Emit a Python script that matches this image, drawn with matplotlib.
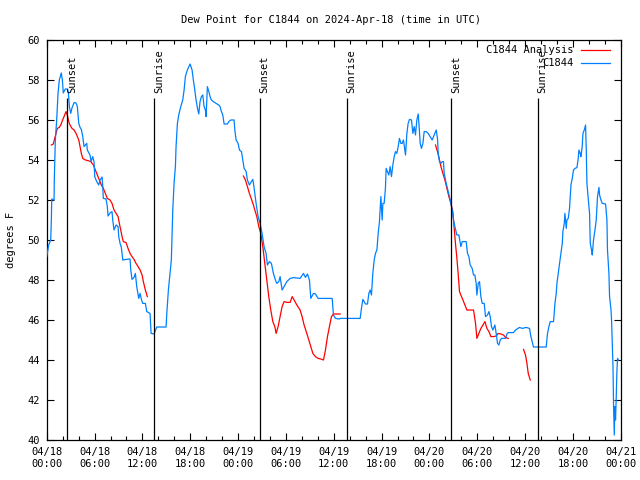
import matplotlib
matplotlib.use('Agg')
import matplotlib.pyplot as plt
import matplotlib.dates as mdates
from matplotlib.lines import Line2D
import pandas as pd

# hours since 2024-04-18 00:00 UTC and dew point (F)
obs_hours = [0.00, 0.25, 0.50, 0.58, 0.63, 0.92, 0.95, 1.08, 1.25, 1.42, 1.58, 1.83, 1.96, 2.08,
             2.33, 2.58, 2.71, 2.84, 3.01, 3.17, 3.43, 3.68, 3.84, 4.02, 4.18, 4.34, 4.52, 4.68,
             5.02, 5.09, 5.43, 5.56, 5.77, 5.93, 6.02, 6.27, 6.52, 6.69, 6.94, 7.03, 7.10, 7.44,
             7.60, 7.69, 7.94, 8.19, 8.28, 8.44, 8.70, 8.95, 9.03, 9.20, 9.36, 9.54, 9.95, 10.45,
             10.54, 10.70, 10.95, 11.12, 11.29, 11.54, 11.71, 11.87, 12.05, 12.37, 12.55, 12.96,
             13.09, 13.46, 13.80, 14.97, 15.06, 15.26, 15.47, 15.63, 15.72, 15.81, 15.97, 16.14,
             16.22, 16.39, 16.56, 16.81, 17.06, 17.23, 17.39, 17.64, 17.98, 18.23, 18.39, 18.57,
             18.73, 18.90, 19.07, 19.23, 19.40, 19.57, 19.74, 19.90, 19.99, 20.15, 20.33, 20.49,
             20.65, 20.90, 21.24, 21.58, 21.74, 21.91, 22.08, 22.25, 22.66, 22.84, 23.09, 23.50,
             23.59, 23.75, 24.00, 24.17, 24.42, 24.59, 24.76, 25.01, 25.17, 25.42, 25.67, 25.85,
             26.01, 26.26, 26.51, 26.76, 27.01, 27.26, 27.51, 27.68, 27.93, 28.18, 28.43, 28.68,
             28.86, 29.11, 29.27, 29.52, 29.77, 30.11, 30.53, 30.94, 31.78, 32.20, 32.45, 32.70,
             32.95, 33.12, 33.45, 33.70, 34.04, 35.80, 35.96, 36.21, 36.71, 36.80, 39.31, 39.47,
             39.65, 39.81, 39.98, 40.23, 40.40, 40.57, 40.73, 40.90, 41.07, 41.23, 41.41, 41.57,
             41.73, 41.91, 42.07, 42.16, 42.32, 42.48, 42.57, 42.73, 42.91, 43.07, 43.24, 43.41,
             43.58, 43.74, 43.91, 44.08, 44.24, 44.42, 44.58, 44.74, 44.92, 45.00, 45.17, 45.33,
             45.50, 45.75, 45.92, 46.09, 46.25, 46.42, 46.59, 46.68, 46.84, 47.00, 47.18, 47.34,
             47.59, 47.84, 48.09, 48.34, 48.60, 48.85, 49.01, 49.10, 49.26, 49.44, 49.60, 49.76,
             49.85, 50.10, 50.26, 50.51, 50.69, 50.85, 51.02, 51.19, 51.44, 51.69, 51.94, 52.11,
             52.61, 52.77, 52.95, 53.11, 53.36, 53.53, 53.70, 53.86, 53.95, 54.12, 54.28, 54.45,
             54.62, 54.87, 55.03, 55.28, 55.46, 55.62, 55.78, 55.96, 56.21, 56.37, 56.54, 56.71,
             56.88, 57.04, 57.54, 57.72, 57.88, 58.54, 58.79, 59.30, 59.64, 60.14, 60.55, 60.73,
             61.05, 62.64, 62.81, 62.98, 63.15, 63.56, 63.65, 63.74, 63.90, 63.99, 64.15, 64.32,
             64.49, 64.66, 64.74, 64.91, 64.99, 65.16, 65.24, 65.41, 65.57, 65.66, 65.75, 65.91,
             66.07, 66.25, 66.50, 66.66, 66.75, 66.91, 67.00, 67.16, 67.25, 67.42, 67.58, 67.67,
             67.75, 67.92, 68.08, 68.17, 68.33, 68.42, 68.58, 68.76, 68.92, 69.08, 69.26, 69.34,
             69.51, 69.67, 70.09, 70.26, 70.33, 70.51, 70.59, 70.77, 70.84, 70.93, 71.02, 71.09,
             71.18, 71.26, 71.34, 71.43, 71.51, 71.59, 71.68]
obs_dewpt = [49.17, 49.75, 50.0, 51.0, 52.05, 52.0, 53.0, 55.0, 56.0, 57.35, 58.0, 58.35, 58.0, 57.35,
             57.55, 57.55, 57.4, 56.67, 56.33, 56.6, 56.87, 56.85, 56.67, 55.83, 55.63, 55.53, 55.17, 54.67,
             54.83, 54.5, 54.25, 53.92, 54.17, 53.92, 53.17, 52.92, 52.75, 53.0, 53.15, 52.67, 52.08, 52.05,
             51.67, 51.2, 51.35, 51.42, 51.0, 50.5, 50.75, 50.67, 50.17, 49.83, 49.63, 49.0, 49.03, 49.05,
             48.5, 48.03, 48.13, 48.33, 47.67, 47.08, 47.33, 47.03, 46.83, 46.83, 46.42, 46.33,
             45.33, 45.3, 45.65, 45.65, 46.33, 47.5, 48.33, 49.0, 50.17, 51.5, 52.83, 53.67,
             54.67, 55.83, 56.25, 56.67, 57.0, 57.5, 58.17, 58.5, 58.8, 58.5, 58.0, 57.5,
             57.0, 56.6, 56.3, 56.92, 57.17, 57.25, 56.67, 56.5, 56.17, 57.67, 57.42, 57.17,
             57.0, 56.92, 56.83, 56.75, 56.67, 56.42, 56.25, 55.8, 55.8, 55.92, 56.0, 56.0,
             55.5, 55.0, 54.83, 54.5, 54.42, 54.0, 53.58, 53.42, 53.0, 52.75, 52.92, 53.03,
             52.6, 51.83, 51.17, 50.83, 50.33, 49.67, 49.33, 48.75, 48.92, 48.83, 48.33, 48.0,
             47.83, 47.92, 48.17, 47.5, 47.67, 47.92, 48.08, 48.12, 48.08, 48.33, 48.13, 48.3,
             48.0, 47.08, 47.33, 47.3, 47.08, 47.08, 46.25, 46.08, 46.05, 46.08, 46.08, 46.58,
             47.03, 46.92, 46.8, 46.8, 47.33, 47.5, 47.25, 48.33, 49.0, 49.33, 49.5, 50.33,
             50.92, 52.17, 51.0, 51.83, 51.83, 52.58, 53.58, 53.42, 53.25, 53.67, 53.17, 53.75,
             54.17, 54.42, 54.33, 54.67, 55.08, 54.83, 54.83, 55.0, 54.5, 54.25, 55.33, 55.83,
             56.03, 56.0, 55.33, 55.67, 55.25, 56.0, 56.3, 55.83, 54.83, 54.58, 54.83, 55.42,
             55.42, 55.33, 55.17, 55.0, 55.25, 55.5, 55.08, 54.33, 53.92, 53.83, 53.92, 53.92,
             53.33, 52.83, 52.58, 52.17, 51.83, 51.5, 51.0, 50.67, 50.25, 50.25, 49.67, 49.92,
             49.92, 49.33, 49.17, 48.75, 48.58, 48.25, 48.25, 47.83, 47.25, 47.83, 47.92, 47.17,
             46.83, 46.83, 46.17, 46.25, 46.42, 46.17, 45.67, 45.5, 45.75, 45.33, 44.83, 44.75,
             45.0, 45.08, 45.08, 45.3, 45.37, 45.37, 45.5, 45.63, 45.58, 45.63, 45.58, 45.17,
             44.65, 44.65, 45.33, 45.67, 45.92, 45.92, 46.33, 46.83, 47.33, 47.83, 48.33, 48.83,
             49.33, 49.83, 50.42, 50.83, 51.33, 50.58, 51.0, 51.08, 51.58, 52.17, 52.75, 53.08,
             53.5, 53.58, 53.62, 54.08, 54.5, 54.33, 54.17, 54.67, 55.33, 55.5, 55.75, 54.5,
             52.83, 52.08, 51.33, 49.83, 49.5, 49.25, 50.0, 50.5, 51.0, 52.17, 52.63, 52.25,
             52.0, 51.83, 51.8, 51.0, 49.5, 48.33, 47.17, 46.5, 46.0, 44.83, 43.67, 41.75,
             40.25, 41.67, 41.0, 42.17, 43.42, 44.08, 44.0]

# analysis series, four separate pieces
ana_hours = [
    [0.58, 0.83, 1.00, 1.17, 1.33, 1.58, 1.76, 1.92, 2.17, 2.42, 2.58, 2.76, 2.92, 3.17, 3.43,
     3.68, 3.84, 4.02, 4.18, 4.34, 4.52, 4.84, 5.18, 5.52, 5.85, 6.10, 6.35, 6.60, 6.85, 7.10,
     7.35, 7.60, 7.94, 8.19, 8.44, 8.70, 8.95, 9.11, 9.28, 9.45, 9.61, 9.95, 10.20, 10.45,
     10.70, 10.95, 11.20, 11.46, 11.71, 11.96, 12.12, 12.37, 12.62],
    [24.67, 24.92, 25.17, 25.42, 25.67, 25.92, 26.17, 26.35, 26.60, 26.85, 27.10, 27.35, 27.60,
     27.85, 28.10, 28.36, 28.61, 28.77, 29.02, 29.27, 29.52, 29.77, 30.11, 30.53, 30.78, 31.03,
     31.37, 31.78, 32.03, 32.28, 32.62, 32.87, 33.12, 33.38, 33.70, 34.04, 34.38, 34.71, 34.96,
     35.21, 35.46, 35.71, 35.96, 36.80],
    [48.76, 49.01, 49.26, 49.44, 49.69, 49.94, 50.19, 50.44, 50.69, 50.94, 51.10, 51.27, 51.44,
     51.60, 51.77, 51.94, 52.20, 52.45, 52.70, 53.53, 53.78, 53.95, 54.20, 54.45, 54.71, 54.96,
     55.21, 55.46, 55.71, 56.04, 56.37, 56.63, 56.96, 57.29, 57.54, 57.88],
    [59.80, 60.05, 60.23, 60.39, 60.64],
]
ana_dewpt = [
    [54.75, 54.8, 55.08, 55.33, 55.58, 55.63, 55.75, 55.92, 56.17, 56.42, 56.25, 55.92, 55.75, 55.58, 55.5,
     55.33, 55.17, 55.0, 54.67, 54.33, 54.08, 54.0, 53.97, 53.92, 53.75, 53.5, 53.25, 53.0, 52.75, 52.58,
     52.33, 52.08, 52.0, 51.83, 51.5, 51.33, 51.17, 50.83, 50.5, 50.17, 49.92, 49.87, 49.58, 49.33,
     49.17, 49.03, 48.83, 48.67, 48.5, 48.25, 47.92, 47.5, 47.17],
    [53.2, 53.0, 52.67, 52.33, 52.05, 51.75, 51.4, 51.17, 50.67, 50.33, 49.67, 48.83, 48.0,
     47.17, 46.5, 45.92, 45.67, 45.33, 45.67, 46.17, 46.67, 46.92, 46.88, 46.88, 47.17, 47.0,
     46.75, 46.5, 46.17, 45.75, 45.33, 45.0, 44.67, 44.33, 44.17, 44.08, 44.05, 44.0, 44.5,
     45.17, 45.67, 46.17, 46.3, 46.3],
    [54.75, 54.42, 54.0, 53.67, 53.33, 53.0, 52.58, 52.17, 51.83, 51.4, 50.6, 49.8, 49.1,
     48.33, 47.42, 47.25, 47.0, 46.75, 46.5, 46.5, 45.83, 45.08, 45.33, 45.58, 45.75, 45.92,
     45.58, 45.42, 45.17, 45.17, 45.2, 45.33, 45.3, 45.25, 45.13, 45.08],
    [44.53, 44.25, 43.83, 43.33, 43.0],
]

sun_hours = [2.58, 13.5, 26.7, 37.6, 50.76, 61.58]
sun_labels = ['Sunset', 'Sunrise', 'Sunset', 'Sunrise', 'Sunset', 'Sunrise']

base = pd.Timestamp('2024-04-18 00:00')


def to_time(hours):
    return base + pd.to_timedelta(hours, unit='h')


def main():
    mono = 'DejaVu Sans Mono'
    fs = 7.5
    fig = plt.figure(figsize=(6.4, 4.8), dpi=100)
    ax = fig.add_axes([0.073, 0.0833, 0.897, 0.8334])

    ax.plot(to_time(obs_hours), obs_dewpt, color='#0080ff', lw=0.9, zorder=3)
    for h, v in zip(ana_hours, ana_dewpt):
        ax.plot(to_time(h), v, color='#ff0000', lw=0.9, zorder=2)

    for h, lab in zip(sun_hours, sun_labels):
        t = to_time(h)
        ax.vlines(t, 40, 57.1, color='black', lw=0.9, zorder=4)
        ax.text(t, 57.35, lab, rotation=90, ha='left', va='bottom',
                family=mono, fontsize=fs)

    ax.set_xlim(base, base + pd.Timedelta(hours=72))
    ax.set_ylim(40, 60)
    ax.set_yticks(range(40, 61, 2))

    ax.xaxis.set_major_locator(mdates.HourLocator(byhour=[0, 6, 12, 18]))
    ax.xaxis.set_minor_locator(mdates.HourLocator(byhour=range(0, 24, 2)))
    ax.xaxis.set_major_formatter(mdates.DateFormatter('%m/%d\n%H:%M'))

    ax.tick_params(which='both', direction='in', top=True, right=True, width=0.8)
    ax.tick_params(which='major', length=5, pad=5)
    ax.tick_params(which='minor', length=3)
    for lbl in ax.get_xticklabels() + ax.get_yticklabels():
        lbl.set_family(mono)
        lbl.set_fontsize(fs)
    for sp in ax.spines.values():
        sp.set_linewidth(0.9)

    ax.set_ylabel('degrees F', family=mono, fontsize=fs, labelpad=8)
    fig.text(0.517, 0.958, 'Dew Point for C1844 on 2024-Apr-18 (time in UTC)',
             ha='center', va='center', family=mono, fontsize=fs)

    # key in the top right corner, text right-aligned like gnuplot
    ax.text(0.917, 0.975, 'C1844 Analysis', transform=ax.transAxes,
            ha='right', va='center', family=mono, fontsize=fs)
    ax.text(0.917, 0.9425, 'C1844', transform=ax.transAxes,
            ha='right', va='center', family=mono, fontsize=fs)
    ax.add_line(Line2D([0.931, 0.982], [0.975, 0.975], transform=ax.transAxes,
                       color='#ff0000', lw=0.9))
    ax.add_line(Line2D([0.931, 0.982], [0.9425, 0.9425], transform=ax.transAxes,
                       color='#0080ff', lw=0.9))

    fig.savefig('out.png', dpi=100)


if __name__ == '__main__':
    main()
